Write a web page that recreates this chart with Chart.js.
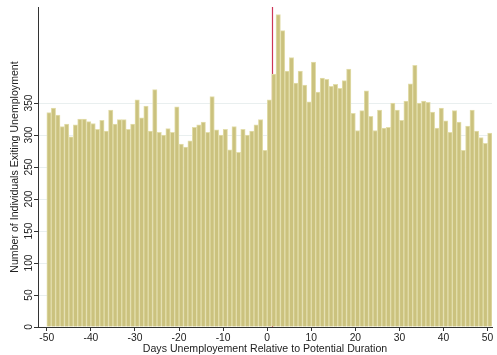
<!DOCTYPE html>
<html><head><meta charset="utf-8">
<script src="https://cdn.jsdelivr.net/npm/chart.js@4/dist/chart.umd.min.js"></script>
<style>html,body{margin:0;padding:0;background:#fff;}#wrap{width:497px;height:355px;}</style>
</head><body><div id="wrap"><canvas id="c" width="497" height="355"></canvas></div>
<script>
const days = [-50,-49,-48,-47,-46,-45,-44,-43,-42,-41,-40,-39,-38,-37,-36,-35,-34,-33,-32,-31,
  -30,-29,-28,-27,-26,-25,-24,-23,-22,-21,-20,-19,-18,-17,-16,-15,-14,-13,-12,-11,
  -10,-9,-8,-7,-6,-5,-4,-3,-2,-1,0,1,2,3,4,5,6,7,8,9,
  10,11,12,13,14,15,16,17,18,19,20,21,22,23,24,25,26,27,28,29,
  30,31,32,33,34,35,36,37,38,39,40,41,42,43,44,45,46,47,48,49,50];
const counts = [335,342,331,313,317,297,316,325,325,321,318,309,323,306,339,317,324,324,309,317,
  355,327,345,306,371,304,300,310,304,344,286,281,291,312,316,320,304,360,308,300,
  309,277,313,273,309,300,306,316,324,276,355,395,488,463,400,421,381,400,378,352,
  414,367,389,387,376,379,373,385,403,334,307,338,369,329,307,339,311,312,350,339,
  323,353,380,409,350,353,351,336,311,342,322,304,338,320,276,314,339,306,296,287,303];
const xTicks = [-50,-40,-30,-20,-10,0,10,20,30,40,50];
const yTicks = [0,50,100,150,200,250,300,350];
const cutoffDay = 1;
const binWidth = 1;
const xTitle = "Days Unemployement Relative to Potential Duration";
const yTitle = "Number of Individuals Exiting Unemployment";

const FONT = "'Liberation Sans', Arial, Helvetica, sans-serif";
const TXT = '#222';
const AX = '#333';

const cutoffLine = {
  id: 'cutoffLine',
  beforeDatasetsDraw(chart) {
    const {ctx, chartArea, scales} = chart;
    const px = Math.round(scales.x.getPixelForValue(cutoffDay)) + 0.5;
    ctx.save();
    ctx.strokeStyle = '#cc3556';
    ctx.lineWidth = 1.2;
    ctx.beginPath();
    ctx.moveTo(px, chartArea.top);
    ctx.lineTo(px, chartArea.bottom);
    ctx.stroke();
    ctx.restore();
  }
};

new Chart(document.getElementById('c').getContext('2d'), {
  type: 'bar',
  data: {
    datasets: [{
      data: days.map((d, i) => ({x: d + binWidth / 2, y: counts[i]})),
      backgroundColor: '#cbc27e',
      borderColor: '#e3deac',
      borderWidth: 1,
      borderSkipped: 'start',
      barPercentage: 1,
      categoryPercentage: 1
    }]
  },
  options: {
    responsive: false,
    animation: false,
    devicePixelRatio: 1,
    layout: {padding: {top: 7, right: 5, left: 0, bottom: 0}},
    plugins: {legend: {display: false}, tooltip: {enabled: false}},
    scales: {
      x: {
        type: 'linear', min: -52, max: 51, offset: false,
        afterBuildTicks: s => { s.ticks = xTicks.map(v => ({value: v})); },
        afterFit: s => { s.height = 28; },
        grid: {offset: false, drawOnChartArea: false, drawTicks: true, tickLength: 4, tickColor: AX},
        border: {display: true, color: AX, width: 1},
        ticks: {color: TXT, font: {family: FONT, size: 10.3}, padding: 1, maxRotation: 0, autoSkip: false},
        title: {display: true, text: xTitle, color: TXT, font: {family: FONT, size: 10.6}, padding: {top: 0, bottom: 0}}
      },
      y: {
        min: 0, max: 500,
        afterBuildTicks: s => { s.ticks = yTicks.map(v => ({value: v})); },
        afterFit: s => { s.width = 38; },
        grid: {color: '#e9efef', drawTicks: true, tickLength: 4, tickColor: AX},
        border: {display: true, color: AX, width: 1},
        ticks: {color: TXT, font: {family: FONT, size: 10.3}, padding: -4, minRotation: 90, maxRotation: 90, crossAlign: 'center', autoSkip: false},
        title: {display: true, text: yTitle, color: TXT, font: {family: FONT, size: 10.6}, padding: {top: 9, bottom: 0}}
      }
    }
  },
  plugins: [cutoffLine]
});
</script>
</body></html>
